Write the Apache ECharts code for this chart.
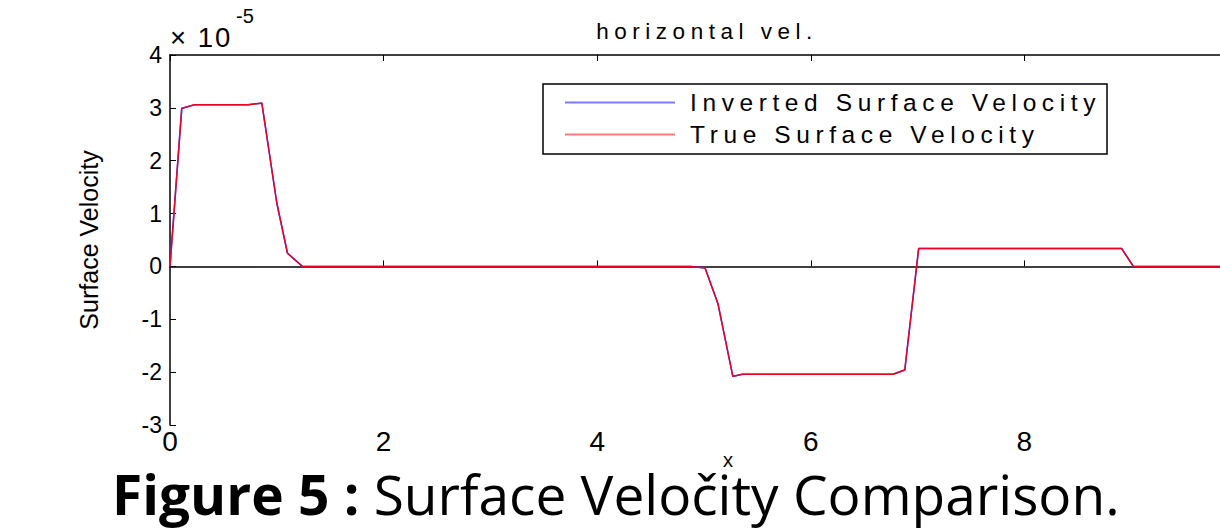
<!DOCTYPE html>
<html><head><meta charset="utf-8">
<script src="https://cdn.jsdelivr.net/npm/echarts@6/dist/echarts.min.js"></script>
<style>
html,body{margin:0;padding:0;background:#fff;}
#c{width:1220px;height:531px;}
#c text[style*="24.5px"]{letter-spacing:5.6px;}
#c text[style*="22.5px"]{letter-spacing:5.5px;}
#c text[style*="27.5px"]{letter-spacing:2px;}
</style>
</head><body><div id="c"></div>
<script>
// x positions (distance) of the curve vertices
const xValues = [0, 0.11, 0.23, 0.73, 0.86, 1.0, 1.1, 1.24, 4.88, 5.01, 5.13, 5.27, 5.36, 6.77, 6.88, 7.01, 8.91, 9.02, 10];
// surface velocity, in units of 1e-5
const invertedVelocity = [0, 2.99, 3.06, 3.06, 3.09, 1.2, 0.25, 0, 0, -0.03, -0.70, -2.08, -2.04, -2.04, -1.96, 0.34, 0.34, 0, 0];
const trueVelocity     = [0, 2.99, 3.06, 3.06, 3.09, 1.2, 0.25, 0, 0, -0.03, -0.70, -2.08, -2.04, -2.04, -1.96, 0.34, 0.34, 0, 0];
const seriesNames = ['Inverted Surface Velocity', 'True Surface Velocity'];
const xTickValues = [0, 2, 4, 6, 8, 10];
const yTickValues = [-3, -2, -1, 0, 1, 2, 3, 4];
const titleText = 'horizontal vel.';
const yAxisTitle = 'Surface Velocity';
const exponentText = '-5';

const chart = echarts.init(document.getElementById('c'), null, {renderer: 'svg'});
const axisCommon = {
  axisLine: {show: true, lineStyle: {color: '#000', width: 1.5}},
  axisTick: {show: true, inside: true, length: 6, lineStyle: {color: '#000', width: 1}},
  splitLine: {show: false}
};
chart.setOption({
  animation: false,
  backgroundColor: '#fff',
  grid: {left: 170, top: 55, width: 1068, height: 370, containLabel: false, outerBoundsMode: 'none'},
  xAxis: [
    Object.assign({type: 'value', position: 'bottom', min: xTickValues[0], max: xTickValues[xTickValues.length-1], interval: 2,
      axisLabel: {fontFamily: 'Liberation Sans Narrow, Liberation Sans', fontSize: 28, lineHeight: 24, color: '#000', margin: 4, showMaxLabel: false}}, axisCommon),
    Object.assign({type: 'value', position: 'top', min: xTickValues[0], max: xTickValues[xTickValues.length-1], interval: 2,
      axisLabel: {show: false}}, axisCommon)
  ],
  yAxis: [
    Object.assign({type: 'value', min: yTickValues[0], max: yTickValues[yTickValues.length-1], interval: 1,
      axisLabel: {fontFamily: 'Liberation Sans', fontSize: 23, color: '#000', margin: 8}}, axisCommon)
  ],
  legend: {
    orient: 'vertical', left: 565, top: 90, padding: 0,
    itemWidth: 110, itemHeight: 2, itemGap: 7, icon: 'rect',
    textStyle: {fontFamily: 'Liberation Sans', fontSize: 24.5, color: '#000', padding: [0,0,0,10]},
    data: [
      {name: seriesNames[0], itemStyle: {color: '#7b7bff'}},
      {name: seriesNames[1], itemStyle: {color: '#ff7b7b'}}
    ]
  },
  series: [
    {name: seriesNames[0], type: 'line', symbol: 'none', color: '#4040ff',
     lineStyle: {color: '#4040ff', width: 1.6},
     data: xValues.map((x, i) => [x, invertedVelocity[i]])},
    {name: seriesNames[1], type: 'line', symbol: 'none', color: '#ee0022',
     lineStyle: {color: '#ee0022', width: 1.4},
     data: xValues.map((x, i) => [x, trueVelocity[i]])}
  ],
  graphic: [
    {type: 'rect', shape: {x: 543, y: 84, width: 564, height: 70}, style: {fill: 'none', stroke: '#000', lineWidth: 1.5}, z: 10},
    {type: 'text', x: 707, y: 31, style: {text: titleText, fontFamily: 'Liberation Sans', fontSize: 22.5, fill: '#000', align: 'center', verticalAlign: 'middle'}},
    {type: 'text', x: 170, y: 37, style: {text: '× 10', fontFamily: 'Liberation Sans', fontSize: 27.5, fill: '#000', align: 'left', verticalAlign: 'middle'}},
    {type: 'text', x: 236, y: 16, style: {text: exponentText, fontFamily: 'Liberation Sans', fontSize: 20, fill: '#000', align: 'left', verticalAlign: 'middle'}},
    {type: 'text', x: 89, y: 240, rotation: Math.PI/2, style: {text: yAxisTitle, fontFamily: 'Liberation Sans Narrow, Liberation Sans', fontSize: 25, fill: '#000', align: 'center', verticalAlign: 'middle'}},
    {type: 'text', x: 112, y: 493, style: {text: '{b|Figure 5 :}{n| Surface Veločity Comparison.}', fill: '#000', align: 'left', verticalAlign: 'middle',
      rich: {b: {fontFamily: 'Open Sans', fontWeight: 'bold', fontSize: 55, lineHeight: 40}, n: {fontFamily: 'Open Sans', fontSize: 55, lineHeight: 40}}}},
    {type: 'text', x: 728, y: 459, style: {text: 'x', fontFamily: 'Open Sans', fontSize: 20, lineHeight: 12, fill: '#000', align: 'center', verticalAlign: 'middle'}}
  ]
});
</script>
</body></html>
